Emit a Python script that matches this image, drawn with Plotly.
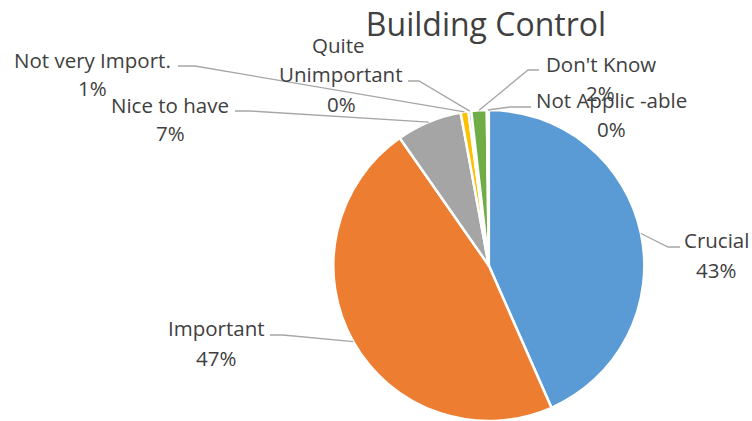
import math
import plotly.graph_objects as go

# data
categories = ["Crucial", "Important", "Nice to have", "Not very Import.",
              "Quite Unimportant", "Don't Know", "Not Applic -able"]
values = [43.4, 46.9, 6.8, 0.8, 0.3, 1.6, 0.2]
colors = ["#5B9BD5", "#ED7D31", "#A5A5A5", "#FFC000", "#4472C4", "#70AD47", "#255E91"]
title = "Building Control"

W, H = 752, 421
TXT = "#404040"
FONT = "Open Sans"
FS = 20.5

# pie placement in pixels
cx, cy, r = 488.8, 265.5, 155.5

# label placement: text lines (centre x, baseline y), leader start and elbow
label_pos = [
    dict(lines=[(716, 247)], pct=(716, 277), lead=(680, 247), elbow=668),
    dict(lines=[(216, 335)], pct=(216, 365), lead=(270, 335), elbow=283),
    dict(lines=[(170, 112)], pct=(170, 140), lead=(235, 111), elbow=250),
    dict(lines=[(92, 67)], pct=(92, 95), lead=(178, 66), elbow=195),
    dict(lines=[(338, 52), (341, 81)], pct=(341, 111), lead=(408, 81), elbow=419),
    dict(lines=[(601, 71)], pct=(600, 100), lead=(539, 70), elbow=528),
    dict(lines=[(611, 107)], pct=(611, 136), lead=(531, 107), elbow=510),
]


def px(x):
    return x / W


def py(y):
    return 1 - y / H


fig = go.Figure(go.Pie(
    labels=categories,
    values=values,
    sort=False,
    direction="clockwise",
    rotation=0,
    marker=dict(colors=colors, line=dict(color="white", width=2.5)),
    textinfo="none",
    hoverinfo="label+percent",
    showlegend=False,
    domain=dict(x=[px(cx - r - 4), px(cx + r + 4)], y=[max(0, py(cy + r)), py(cy - r)]),
))

total = sum(values)
annotations = []
shapes = []
cum = 0
for name, v, pos in zip(categories, values, label_pos):
    mid = (cum + v / 2) / total * 2 * math.pi
    cum += v
    ex = cx + r * math.sin(mid)
    ey = cy - r * math.cos(mid)
    words = [name] if len(pos["lines"]) == 1 else name.split(" ", 1)
    for text, (tx, ty) in zip(words, pos["lines"]):
        annotations.append(dict(x=px(tx), y=py(ty - 7), text=text, showarrow=False,
                                xref="paper", yref="paper", xanchor="center", yanchor="middle",
                                font=dict(family=FONT, size=FS, color=TXT)))
    tx, ty = pos["pct"]
    annotations.append(dict(x=px(tx), y=py(ty - 7), text=f"{round(v / total * 100)}%",
                            showarrow=False, xref="paper", yref="paper",
                            xanchor="center", yanchor="middle",
                            font=dict(family=FONT, size=FS, color=TXT)))
    lx, ly = pos["lead"]
    path = f"M {px(lx)} {py(ly)} L {px(pos['elbow'])} {py(ly)} L {px(ex)} {py(ey)}"
    shapes.append(dict(type="path", path=path, xref="paper", yref="paper",
                       line=dict(color="#A6A6A6", width=1.3)))

fig.update_layout(
    width=W, height=H,
    margin=dict(l=0, r=0, t=0, b=0),
    paper_bgcolor="white",
    plot_bgcolor="white",
    title=dict(text=title, x=px(486), y=py(25), xanchor="center", yanchor="middle",
               font=dict(family=FONT, size=32, color=TXT)),
    annotations=annotations,
    shapes=shapes,
)

# drop the default body margin so the 752x421 figure fills the window exactly
fig.write_html("out.html", config={"displayModeBar": False},
               post_script="document.body.style.margin='0';document.body.style.overflow='hidden';")
